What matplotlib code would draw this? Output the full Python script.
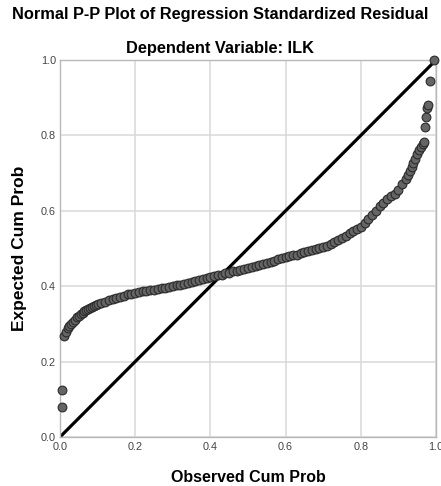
import numpy as np
import matplotlib.pyplot as plt

plt.rcParams['font.family'] = ['Liberation Sans', 'DejaVu Sans']

# observed cum prob (x) and expected cum prob (y)
obs = [0.005, 0.006,
       0.010, 0.015, 0.020, 0.025, 0.030, 0.035, 0.040, 0.045, 0.050, 0.055,
       0.060, 0.065, 0.070, 0.075, 0.080, 0.085, 0.090, 0.095, 0.100, 0.110,
       0.120, 0.130, 0.140, 0.150, 0.160, 0.170, 0.180, 0.190, 0.200, 0.210,
       0.220, 0.230, 0.240, 0.250, 0.260, 0.270, 0.280, 0.290, 0.300, 0.310,
       0.320, 0.330, 0.340, 0.350, 0.360, 0.370, 0.380, 0.390, 0.400, 0.410,
       0.420, 0.430, 0.440, 0.450, 0.460, 0.470, 0.480, 0.490, 0.500, 0.510,
       0.520, 0.530, 0.540, 0.550, 0.560, 0.570, 0.580, 0.590, 0.600, 0.610,
       0.620, 0.630, 0.640, 0.650, 0.660, 0.670, 0.680, 0.690, 0.700, 0.710,
       0.720, 0.730, 0.740, 0.750, 0.760, 0.770, 0.780, 0.790, 0.800, 0.810,
       0.820, 0.830, 0.840, 0.850, 0.860, 0.870, 0.880, 0.890, 0.900, 0.910,
       0.920, 0.925, 0.930, 0.935, 0.940, 0.945, 0.950, 0.955, 0.960, 0.965,
       0.968, 0.971, 0.973, 0.976, 0.979, 0.984, 0.995]
exp = [0.080, 0.125,
       0.268, 0.278, 0.288, 0.295, 0.301, 0.306, 0.311, 0.317, 0.322, 0.326,
       0.330, 0.333, 0.336, 0.339, 0.342, 0.345, 0.348, 0.351, 0.353, 0.356,
       0.359, 0.363, 0.366, 0.369, 0.372, 0.375, 0.378, 0.380, 0.383, 0.385,
       0.387, 0.388, 0.390, 0.391, 0.393, 0.395, 0.396, 0.398, 0.400, 0.402,
       0.404, 0.406, 0.408, 0.411, 0.414, 0.417, 0.420, 0.422, 0.425, 0.427,
       0.429, 0.431, 0.434, 0.436, 0.439, 0.441, 0.444, 0.446, 0.449, 0.451,
       0.454, 0.456, 0.459, 0.461, 0.464, 0.467, 0.471, 0.474, 0.477, 0.479,
       0.482, 0.484, 0.487, 0.490, 0.493, 0.496, 0.499, 0.501, 0.504, 0.507,
       0.511, 0.516, 0.522, 0.528, 0.534, 0.540, 0.546, 0.552, 0.558, 0.568,
       0.578, 0.590, 0.600, 0.612, 0.621, 0.630, 0.638, 0.645, 0.656, 0.670,
       0.685, 0.695, 0.706, 0.717, 0.727, 0.737, 0.750, 0.760, 0.768, 0.777,
       0.782, 0.823, 0.850, 0.872, 0.880, 0.943, 1.000]

ref_line = [0.0, 1.0]
ticks = [0.0, 0.2, 0.4, 0.6, 0.8, 1.0]

fig = plt.figure(figsize=(4.41, 4.86), dpi=100)
ax = fig.add_axes([60/441, 49/486, 376/441, 377/486])

ax.plot(ref_line, ref_line, color="black", lw=2.3, zorder=2, solid_capstyle="butt")
ax.plot(obs, exp, "o", ms=6.3, mfc="#656565", mec="#2b2b2b", mew=0.8,
        zorder=3, clip_on=False)

ax.set_xlim(0, 1)
ax.set_ylim(0, 1)
ax.set_xticks(ticks)
ax.set_yticks(ticks)
ax.set_xticklabels(["%.1f" % t for t in ticks])
ax.set_yticklabels(["%.1f" % t for t in ticks])
ax.tick_params(length=0, labelsize=7.8, labelcolor="#444444")
ax.tick_params(axis="x", pad=3.5)
ax.tick_params(axis="y", pad=3)
ax.grid(True, color="#d9d9d9", lw=1.1)
ax.set_axisbelow(True)
for s in ax.spines.values():
    s.set_color("#b8b8b8")
    s.set_linewidth(1.0)

ax.set_xlabel("Observed Cum Prob", fontsize=11.5, fontweight="bold", labelpad=13)
ax.set_ylabel("Expected Cum Prob", fontsize=12.5, fontweight="bold", labelpad=10)

fig.text(0.5, 1 - 14/486, "Normal P-P Plot of Regression Standardized Residual",
         ha="center", va="center", fontsize=11.8, fontweight="bold")
fig.text(0.5, 1 - 48/486, "Dependent Variable: ILK",
         ha="center", va="center", fontsize=11.8, fontweight="bold")

plt.savefig("out.png", dpi=100)
